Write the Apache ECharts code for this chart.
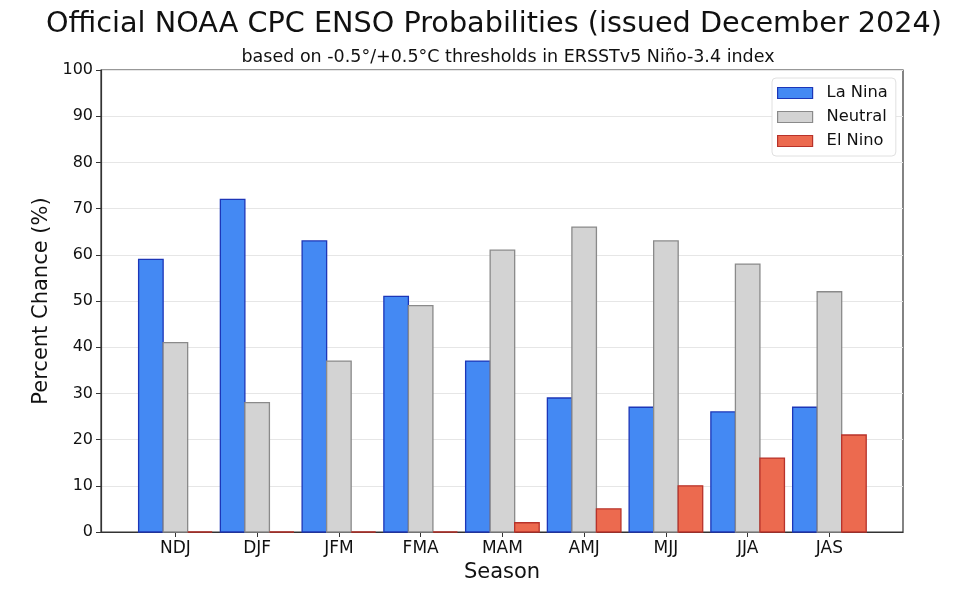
<!DOCTYPE html>
<html>
<head>
<meta charset="utf-8">
<script src="https://cdn.jsdelivr.net/npm/echarts@6/dist/echarts.min.js"></script>
<style>
html,body{margin:0;padding:0;background:#fff;}
#chart{width:974px;height:596px;}
</style>
</head>
<body>
<div id="chart"></div>
<script>
var seasons = ['NDJ','DJF','JFM','FMA','MAM','AMJ','MJJ','JJA','JAS'];
var laNina  = [59, 72, 63, 51, 37, 29, 27, 26, 27];
var neutral = [41, 28, 37, 49, 61, 66, 63, 58, 52];
var elNino  = [0, 0, 0, 0, 2, 5, 10, 16, 21];
var yTicks  = [0, 10, 20, 30, 40, 50, 60, 70, 80, 90, 100];

var FONT = 'DejaVu Sans';
var BAR_W = 0.3;

function toPairs(arr){ return arr.map(function(v,i){ return [i, v]; }); }

function makeRender(offset, fill, stroke){
  return function(params, api){
    var x = api.value(0), y = api.value(1);
    var p1 = api.coord([x + offset - BAR_W/2, y]);
    var p0 = api.coord([x + offset + BAR_W/2, 0]);
    return {
      type: 'rect',
      shape: { x: p1[0], y: p1[1], width: p0[0]-p1[0], height: p0[1]-p1[1] },
      style: { fill: fill, stroke: stroke, lineWidth: 1.3 }
    };
  };
}

var series = [
  {name:'La Nina', fill:'#4489f3', stroke:'#1c36b8', off:-0.3, data:laNina},
  {name:'Neutral', fill:'#d3d3d3', stroke:'#8a8a8a', off:0, data:neutral},
  {name:'El Nino', fill:'#ec6a4f', stroke:'#b8322a', off:0.3, data:elNino}
].map(function(s){
  return {
    type:'custom', name:s.name,
    itemStyle:{color:s.fill, borderColor:s.stroke, borderWidth:1.3},
    renderItem: makeRender(s.off, s.fill, s.stroke),
    encode:{x:0, y:1},
    data: toPairs(s.data),
    z: 3
  };
});

var chart = echarts.init(document.getElementById('chart'), null, {renderer:'canvas'});
chart.setOption({
  animation:false,
  backgroundColor:'#fff',
  title:[
    {text:'Official NOAA CPC ENSO Probabilities (issued December 2024)', left:489, textAlign:'center', top:5,
     textStyle:{fontFamily:FONT, fontSize:28.7, fontWeight:'normal', color:'#111'}},
    {text:'based on -0.5°/+0.5°C thresholds in ERSSTv5 Niño-3.4 index', left:503, textAlign:'center', top:43,
     textStyle:{fontFamily:FONT, fontSize:17.5, fontWeight:'normal', color:'#111'}}
  ],
  grid:{left:101, right:71, top:70, bottom:64, show:true, borderColor:'#333', borderWidth:1.2, backgroundColor:'transparent'},
  legend:{
    orient:'vertical', left:772, top:78,
    backgroundColor:'#fff', borderColor:'#e0e0e0', borderWidth:1, borderRadius:4,
    padding:[6,8,6,5], itemGap:6, itemWidth:35, itemHeight:11,
    icon:'rect',
    textStyle:{fontFamily:FONT, fontSize:16.3, color:'#111', lineHeight:18, padding:[0,0,0,9]},
    data:[
      {name:'La Nina', itemStyle:{color:'#4489f3', borderColor:'#1c36b8', borderWidth:1.2}},
      {name:'Neutral', itemStyle:{color:'#d3d3d3', borderColor:'#8a8a8a', borderWidth:1.2}},
      {name:'El Nino', itemStyle:{color:'#ec6a4f', borderColor:'#b8322a', borderWidth:1.2}}
    ],
    selectedMode:false
  },
  xAxis:{
    type:'value', min:-0.91, max:8.9,
    name:'Season', nameLocation:'middle', nameGap:29,
    nameTextStyle:{fontFamily:FONT, fontSize:21, color:'#111'},
    axisLine:{show:true, onZero:false, lineStyle:{color:'#333', width:1.2}},
    splitLine:{show:false},
    axisTick:{show:true, length:5, customValues:seasons.map(function(s,i){return i;}), lineStyle:{color:'#333'}},
    axisLabel:{customValues:seasons.map(function(s,i){return i;}), margin:8,
      fontFamily:FONT, fontSize:17, color:'#111',
      formatter:function(v){ var i=Math.round(v); return seasons[i]||''; }}
  },
  yAxis:{
    type:'value', min:0, max:100, interval:10,
    name:'Percent Chance (%)', nameLocation:'middle', nameGap:46,
    nameTextStyle:{fontFamily:FONT, fontSize:21, color:'#111'},
    axisLine:{show:true, onZero:false, lineStyle:{color:'#333', width:1.2}},
    axisTick:{show:true, length:5, lineStyle:{color:'#333'}},
    axisLabel:{fontFamily:FONT, fontSize:16, color:'#111', margin:8,
      customValues:yTicks},
    splitLine:{show:true, lineStyle:{color:'#e6e6e6', width:1}}
  },
  series:series
});
</script>
</body>
</html>
